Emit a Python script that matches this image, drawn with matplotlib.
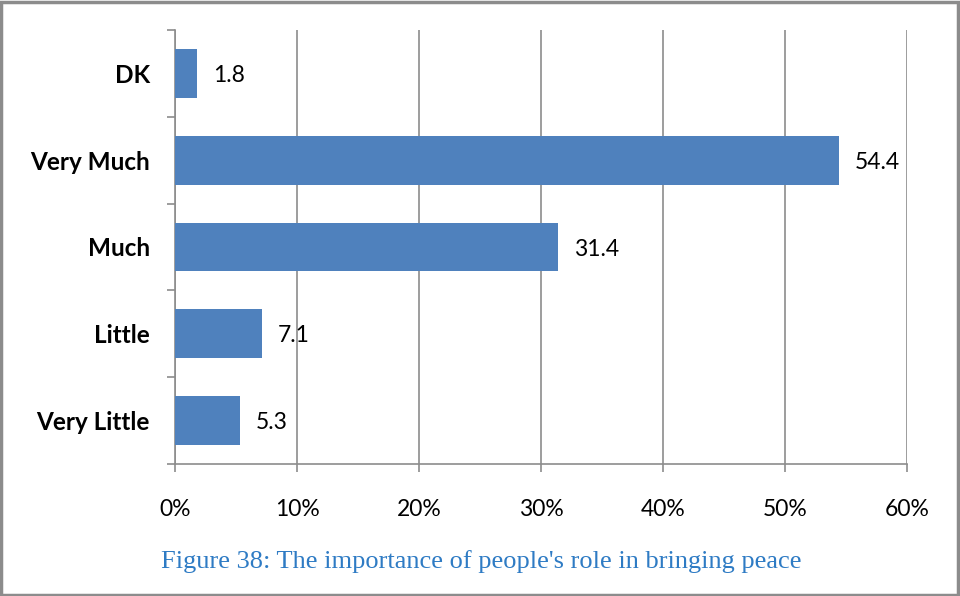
import matplotlib
matplotlib.use("Agg")
import matplotlib.pyplot as plt
from matplotlib.patches import Rectangle
from matplotlib.ticker import FuncFormatter

categories = ["Very Little", "Little", "Much", "Very Much", "DK"]
values = [5.3, 7.1, 31.4, 54.4, 1.8]
x_ticks = [0, 10, 20, 30, 40, 50, 60]
caption = "Figure 38: The importance of people's role in bringing peace"

font = "Lato"
fs = 16.5
fig = plt.figure(figsize=(9.6, 5.96), dpi=100)
ax = fig.add_axes([175/960, 1-464/596, 732/960, 434/596])

ypos = list(range(len(categories)))
ax.barh(ypos, values, height=0.56, color="#4F81BD", zorder=3)
for y, v in zip(ypos, values):
    ax.annotate(f"{v}", xy=(v, y), xytext=(16, -2), textcoords="offset pixels",
                va="center", ha="left", fontsize=fs, family=font, color="black", zorder=4)

ax.set_xlim(0, 60)
ax.set_ylim(-0.5, len(categories) - 0.5)
ax.set_xticks(x_ticks)
ax.xaxis.set_major_formatter(FuncFormatter(lambda v, p: f"{int(v)}%"))
ax.set_yticks(ypos)
ax.set_yticklabels(categories, fontsize=17.5, fontweight="bold", family=font)
ax.set_yticks([i - 0.5 for i in range(len(categories) + 1)], minor=True)
for lbl in ax.get_xticklabels():
    lbl.set_fontsize(fs)
    lbl.set_family(font)

ax.grid(axis="x", color="#8C8C8C", linewidth=1.2, zorder=0)
for s in ["top", "right"]:
    ax.spines[s].set_visible(False)
for s in ["left", "bottom"]:
    ax.spines[s].set_color("#8C8C8C")
    ax.spines[s].set_linewidth(1.2)

ax.tick_params(axis="y", which="major", length=0, pad=18)
ax.tick_params(axis="y", which="minor", length=6, color="#8C8C8C", width=1.2)
ax.tick_params(axis="x", which="major", length=6, color="#8C8C8C", width=1.2, pad=19)

fig.text(481/960, 1-562/596, caption, ha="center", va="center", fontsize=19,
         family="Liberation Serif", color="#2E7BC4")

fig.add_artist(Rectangle((0.001, 0.002), 0.997, 0.995, transform=fig.transFigure,
                         fill=False, edgecolor="#8C8C8C", linewidth=2.5))

fig.savefig("out.png", dpi=100)
